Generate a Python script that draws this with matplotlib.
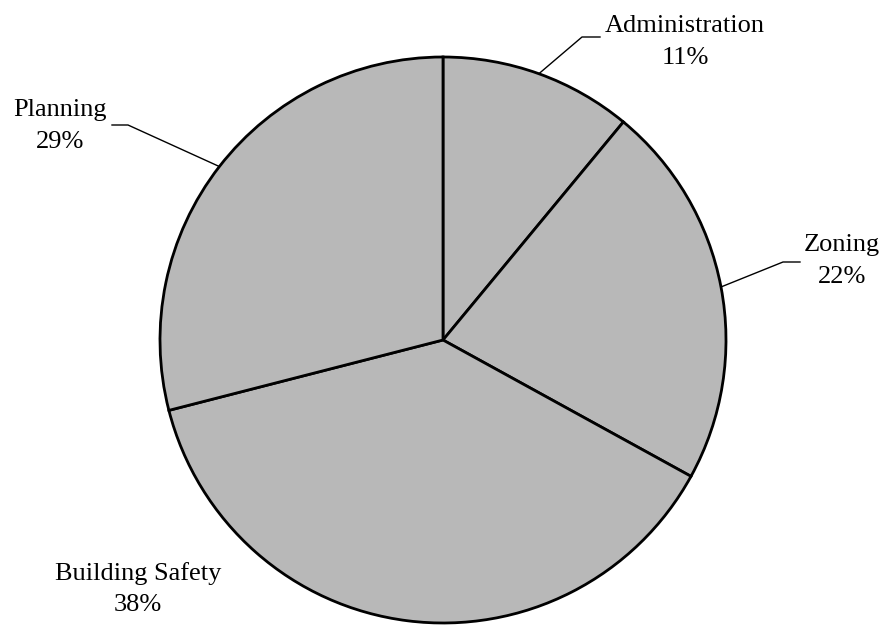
import numpy as np
import matplotlib.pyplot as plt

labels = ['Administration', 'Zoning', 'Building Safety', 'Planning']
shares = [11, 22, 38, 29]

# label text centres and leader elbows, in pixel coords (y down)
text_pos = [(685, 42), (842, 261), (138, 589), (60, 126)]
elbows = [((582, 37), (600, 37)), ((783, 262), (800, 262)), None,
          ((128, 125), (112, 125))]

W, H = 889, 625
cx, cy, r = 443, 340, 283

fig = plt.figure(figsize=(W / 100, H / 100), dpi=100)
ax = fig.add_axes([0, 0, 1, 1])

wedges, _ = ax.pie(shares, startangle=90, counterclock=False,
                   center=(cx, H - cy), radius=r, colors=['#b8b8b8'] * 4,
                   wedgeprops=dict(edgecolor='black', linewidth=2))

# pie resets the limits, so set them afterwards
ax.set_xlim(0, W)
ax.set_ylim(0, H)
ax.set_aspect('equal')
ax.axis('off')

for w, lab, s, tp, el in zip(wedges, labels, shares, text_pos, elbows):
    ax.text(tp[0], H - tp[1], f'{lab}\n{s}%', ha='center', va='center',
            fontsize=19, family='Liberation Serif', linespacing=1.55)
    if el is None:
        continue
    mid = np.deg2rad((w.theta1 + w.theta2) / 2)
    ex, ey = cx + r * np.cos(mid), H - cy + r * np.sin(mid)
    ax.plot([ex, el[0][0], el[1][0]], [ey, H - el[0][1], H - el[1][1]],
            color='black', linewidth=1)

fig.savefig('out.png', dpi=100)
